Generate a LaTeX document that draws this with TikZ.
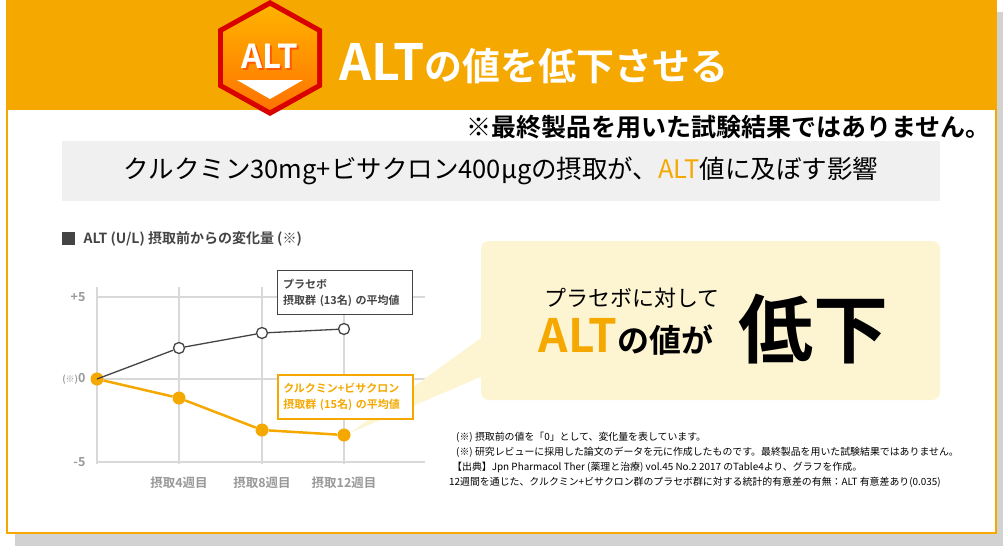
\documentclass[tikz,border=0pt]{standalone}
\usepackage{fontspec}
\setmainfont{Noto Sans CJK JP}[BoldFont={Noto Sans CJK JP Bold}]
\definecolor{org}{HTML}{F5A800}
\definecolor{grd}{HTML}{D9D9D9}
\definecolor{dk}{HTML}{444444}
\definecolor{pale}{HTML}{FDF5D2}
\begin{document}
\begin{tikzpicture}[x=1pt,y=-1pt,
  grid/.style={grd,line width=2},
  lbl/.style={text=gray!80,font=\fontsize{12.5}{12.5}\selectfont\bfseries},
  pdot/.style={circle,draw=dk,fill=white,line width=1.3,minimum size=11,inner sep=0},
  cdot/.style={circle,fill=org,minimum size=13,inner sep=0},
  note/.style={anchor=west,font=\fontsize{9.9}{10}\selectfont,inner sep=0}]
\useasboundingbox (0,0) rectangle (1007,546);
% shadow + frame
\fill[gray!35] (15,12) rectangle (1003,546);
\fill[white,draw=org,line width=2] (7,2) rectangle (996,533);
\fill[org] (6,0) rectangle (997,110);
% badge
\fill[red!85!black] (270,0) -- (322,29) -- (322,87) -- (270,116) -- (218,87) -- (218,29) -- cycle;
\shade[top color=orange!60!yellow,bottom color=orange!90!red] (270,6) -- (317,32) -- (317,84) -- (270,110) -- (223,84) -- (223,32) -- cycle;
\fill[white] (237,80) -- (303,80) -- (270,99) -- cycle;
\node[font=\fontsize{33}{33}\selectfont\bfseries,text=orange!70!red] (badgeS) at (271.5,58.5) {ALT};
\node[font=\fontsize{33}{33}\selectfont\bfseries,text=white] (badge) at (270,56) {ALT};
\node[font=\fontsize{50}{50}\selectfont\bfseries,text=white,anchor=west] (title) at (336,64) {ALT{\fontsize{38}{38}\selectfont の値を低下させる}};
\node[font=\fontsize{25}{25}\selectfont\bfseries,anchor=east] (disc) at (994,127) {※最終製品を用いた試験結果ではありません。};
% gray band
\fill[gray!12] (62,141) rectangle (940,201);
\node[font=\fontsize{25.5}{25}\selectfont] (head) at (501,171) {クルクミン30mg+ビサクロン400μgの摂取が、\textcolor{org}{ALT}値に及ぼす影響};
% chart title
\fill[dk] (62,232) rectangle (75,245);
\node[anchor=west,font=\fontsize{14}{14}\selectfont\bfseries,text=dk] (ctitle) at (80,239) {ALT (U/L) 摂取前からの変化量 (※)};
% grid
\foreach \xx in {179,262,344} \draw[grid] (\xx,287) -- (\xx,464);
\draw[grid] (97,287) -- (97,464);
\foreach \yy in {297,379,462} \draw[grid] (97,\yy) -- (425,\yy);
\node[lbl,anchor=east] (yp) at (89,297) {+5};
\node[lbl,anchor=east] (y0) at (89,379) {{\fontsize{9}{9}\selectfont(※)}0};
\node[lbl,anchor=east] (ym) at (89,462) {-5};
\node[lbl] (x4) at (179,483) {摂取4週目};
\node[lbl] (x8) at (262,483) {摂取8週目};
\node[lbl] (x12) at (344,483) {摂取12週目};
% callout wedge and box
\fill[pale] (485,335) -- (485,375) -- (350,433) -- cycle;
\fill[pale,rounded corners=8] (481,241) rectangle (940,400);
\node[font=\fontsize{22}{22}\selectfont] (c1) at (632,298) {プラセボに対して};
\node[font=\fontsize{46}{46}\selectfont\bfseries,anchor=base west] (c2) at (535,352) {\textcolor{org}{ALT}{\fontsize{32}{32}\selectfont の値が}};
\node[font=\fontsize{75}{75}\selectfont\bfseries,anchor=base west] (c3) at (735,357) {低下};
% data
\node[pdot] (p1) at (179,348) {};
\node[pdot] (p2) at (262,333) {};
\node[pdot] (p3) at (344,329) {};
\node[cdot] (c0) at (97,379) {};
\node[cdot] (k1) at (179,398) {};
\node[cdot] (k2) at (262,430) {};
\node[cdot] (k3) at (344,435) {};
\draw[dk,line width=1.3] (c0.center) -- (p1) -- (p2) -- (p3);
\draw[org,line width=2.5] (c0) -- (k1) -- (k2) -- (k3);
% legend boxes
\node[draw=dk,line width=1.2,fill=white,align=left,anchor=north west,font=\fontsize{11}{16}\selectfont\bfseries,text=dk,minimum width=135,minimum height=44,text width=124,inner sep=5] (lp) at (277,270) {プラセボ\\摂取群 (13名) の平均値};
\node[draw=org,line width=1.5,fill=white,align=left,anchor=north west,font=\fontsize{11}{16}\selectfont\bfseries,text=org,minimum width=135,minimum height=44,text width=124,inner sep=5] (lc) at (277,374) {クルクミン+ビサクロン\\摂取群 (15名) の平均値};
% notes
\node[note] (n1) at (456,437) {(※) 摂取前の値を「0」として、変化量を表しています。};
\node[note] (n2) at (456,452) {(※) 研究レビューに採用した論文のデータを元に作成したものです。最終製品を用いた試験結果ではありません。};
\node[note] (n3) at (452,467) {【出典】Jpn Pharmacol Ther (薬理と治療) vol.45 No.2 2017 のTable4より、グラフを作成。};
\node[note] (n4) at (449,482) {12週間を通じた、クルクミン+ビサクロン群のプラセボ群に対する統計的有意差の有無：ALT 有意差あり(0.035)};
\end{tikzpicture}
\end{document}
